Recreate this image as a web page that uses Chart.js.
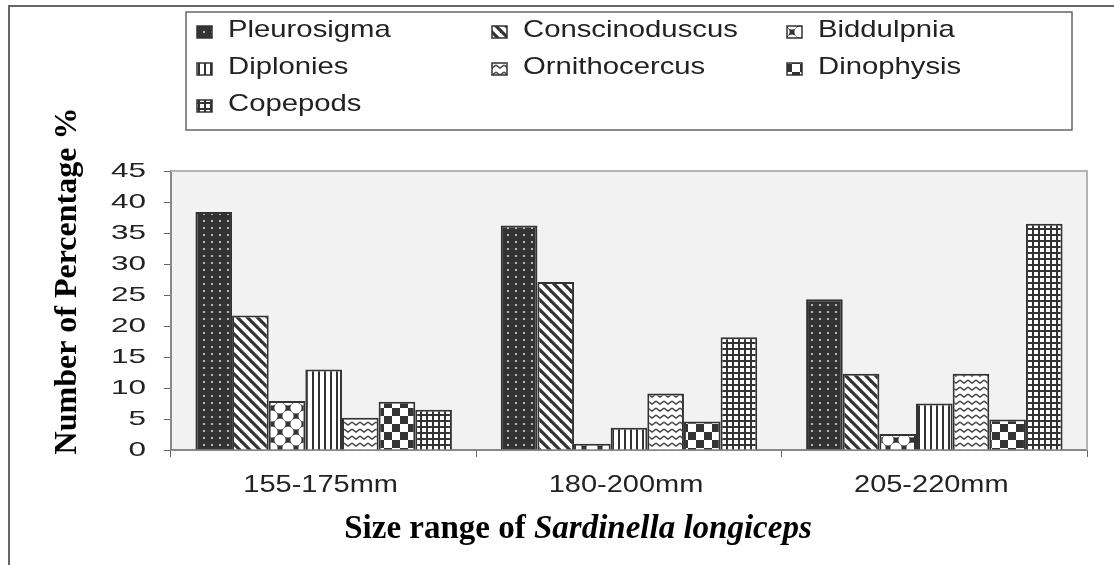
<!DOCTYPE html>
<html>
<head>
<meta charset="utf-8">
<script src="https://cdn.jsdelivr.net/npm/chart.js@4.4.1/dist/chart.umd.min.js"></script>
<style>
  html, body { margin: 0; padding: 0; background: #fff; }
  #wrap { position: relative; width: 1114px; height: 565px; }
</style>
</head>
<body>
<div id="wrap"><canvas id="chart" width="1114" height="565"></canvas></div>
<script>
const categories = ['155-175mm', '180-200mm', '205-220mm'];
const seriesNames = ['Pleurosigma', 'Conscinoduscus', 'Biddulpnia', 'Diplonies', 'Ornithocercus', 'Dinophysis', 'Copepods'];
const pleurosigma = [38.4, 36.2, 24.3];
const conscinoduscus = [21.7, 27.1, 12.3];
const biddulpnia = [7.9, 1.0, 2.6];
const diplonies = [13.0, 3.6, 7.5];
const ornithocercus = [5.2, 9.1, 12.3];
const dinophysis = [7.8, 4.6, 4.9];
const copepods = [6.5, 18.2, 36.5];
const yTicks = [0, 5, 10, 15, 20, 25, 30, 35, 40, 45];

const DARK = '#333333';
const SANS = '"Liberation Sans", Arial, sans-serif';
const SERIF = '"Liberation Serif", "Times New Roman", serif';

function makeTile(w, h, draw) {
    const c = document.createElement('canvas');
    c.width = w;
    c.height = h;
    const g = c.getContext('2d');
    draw(g, w, h);
    return document.getElementById('chart').getContext('2d').createPattern(c, 'repeat');
}

// one pattern per series, in the same order as seriesNames
const patterns = [
    makeTile(8, 7, (g, w, h) => {
        g.fillStyle = DARK; g.fillRect(0, 0, w, h);
        g.fillStyle = '#b8b8b8'; g.fillRect(3, 3, 2, 2);
    }),
    makeTile(10, 10, (g, w, h) => {
        g.fillStyle = '#fff'; g.fillRect(0, 0, w, h);
        g.strokeStyle = DARK; g.lineWidth = 3.2;
        for (let k = -1; k <= 1; k++) {
            g.beginPath(); g.moveTo(k * w - 2, -2); g.lineTo(k * w + w + 2, h + 2); g.stroke();
        }
    }),
    makeTile(16, 16, (g, w, h) => {
        g.fillStyle = DARK; g.fillRect(0, 0, w, h);
        g.fillStyle = '#fff';
        const pts = [[0, 0], [w, 0], [0, h], [w, h], [w / 2, h / 2]];
        pts.forEach(([cx, cy]) => {
            g.beginPath();
            g.arc(cx, cy, 5.6, 0, Math.PI * 2);
            g.fill();
        });
    }),
    makeTile(6, 6, (g, w, h) => {
        g.fillStyle = '#fff'; g.fillRect(0, 0, w, h);
        g.fillStyle = DARK; g.fillRect(0, 0, 2, h);
    }),
    makeTile(8, 7, (g, w, h) => {
        g.fillStyle = '#fff'; g.fillRect(0, 0, w, h);
        g.strokeStyle = '#444'; g.lineWidth = 1.4;
        g.beginPath(); g.moveTo(0, 2); g.lineTo(w / 2, 5); g.lineTo(w, 2); g.stroke();
    }),
    makeTile(16, 16, (g, w, h) => {
        g.fillStyle = '#fff'; g.fillRect(0, 0, w, h);
        g.fillStyle = DARK; g.fillRect(0, 0, 8, 8); g.fillRect(8, 8, 8, 8);
    }),
    makeTile(6, 6, (g, w, h) => {
        g.fillStyle = '#fff'; g.fillRect(0, 0, w, h);
        g.fillStyle = DARK; g.fillRect(0, 0, 2, h); g.fillRect(0, 0, w, 2);
    })
];

const seriesValues = [pleurosigma, conscinoduscus, biddulpnia, diplonies, ornithocercus, dinophysis, copepods];

// text drawn a little wider than the font, like the source picture
function wideText(ctx, text, x, y, size, sx, align) {
    ctx.save();
    ctx.translate(x, y);
    ctx.scale(sx, 1);
    ctx.font = size + 'px ' + SANS;
    ctx.fillStyle = '#222';
    ctx.textAlign = align;
    ctx.textBaseline = 'middle';
    ctx.fillText(text, 0, 0);
    ctx.restore();
}

const decorations = {
    id: 'decorations',
    beforeDraw(chart) {
        const { ctx, chartArea: a } = chart;
        ctx.save();
        ctx.fillStyle = '#fff';
        ctx.fillRect(0, 0, chart.width, chart.height);
        ctx.fillStyle = '#f2f2f2';
        ctx.fillRect(a.left, a.top, a.right - a.left, a.bottom - a.top);
        // outer frame, top and left only
        ctx.strokeStyle = '#666';
        ctx.lineWidth = 2;
        ctx.beginPath();
        ctx.moveTo(chart.width, 6); ctx.lineTo(9, 6); ctx.lineTo(9, chart.height);
        ctx.stroke();
        ctx.restore();
    },
    afterDraw(chart) {
        const { ctx, chartArea: a, scales } = chart;
        ctx.save();
        // plot border top and right
        ctx.strokeStyle = '#b4b4b4';
        ctx.lineWidth = 2;
        ctx.beginPath();
        ctx.moveTo(a.left, a.top); ctx.lineTo(a.right, a.top); ctx.lineTo(a.right, a.bottom);
        ctx.stroke();

        // tick labels
        yTicks.forEach(v => wideText(ctx, String(v), 146, scales.y.getPixelForValue(v), 21, 1.5, 'right'));
        categories.forEach((c, i) => wideText(ctx, c, scales.x.getPixelForValue(i) - 3, 486, 23, 1.26, 'center'));

        // axis titles
        ctx.fillStyle = '#000';
        ctx.textBaseline = 'alphabetic';
        const part1 = 'Size range of ';
        ctx.font = 'bold 33px ' + SERIF;
        const w1 = ctx.measureText(part1).width;
        ctx.font = 'italic bold 33px ' + SERIF;
        const w2 = ctx.measureText('Sardinella longiceps').width;
        const x0 = 578 - (w1 + w2) / 2;
        ctx.textAlign = 'left';
        ctx.font = 'bold 33px ' + SERIF;
        ctx.fillText(part1, x0, 538);
        ctx.font = 'italic bold 33px ' + SERIF;
        ctx.fillText('Sardinella longiceps', x0 + w1, 538);

        ctx.save();
        ctx.translate(76, 281);
        ctx.rotate(-Math.PI / 2);
        ctx.font = 'bold 32px ' + SERIF;
        ctx.textAlign = 'center';
        ctx.fillText('Number of Percentage %', 0, 0);
        ctx.restore();

        // legend box
        ctx.strokeStyle = '#666';
        ctx.lineWidth = 1.5;
        ctx.strokeRect(186, 12, 886, 118);
        const colX = [197, 492, 787];
        const rowY = [30, 67, 104];
        seriesNames.forEach((name, i) => {
            const x = colX[i % 3];
            const y = rowY[Math.floor(i / 3)];
            ctx.fillStyle = patterns[i];
            ctx.fillRect(x, y - 4, 15, 12);
            ctx.strokeStyle = DARK;
            ctx.lineWidth = 1.5;
            ctx.strokeRect(x, y - 4, 15, 12);
            wideText(ctx, name, x + 31, y, 24, 1.22, 'left');
        });
        ctx.restore();
    }
};

new Chart(document.getElementById('chart'), {
    type: 'bar',
    data: {
        labels: categories,
        datasets: seriesNames.map((name, i) => ({
            label: name,
            data: seriesValues[i],
            backgroundColor: patterns[i],
            borderColor: DARK,
            borderWidth: 2,
            barPercentage: 1,
            categoryPercentage: 0.84
        }))
    },
    options: {
        responsive: false,
        animation: false,
        devicePixelRatio: 1,
        layout: { padding: { left: 164, right: 27, top: 171, bottom: 108 } },
        plugins: { legend: { display: false }, tooltip: { enabled: false } },
        scales: {
            x: {
                grid: { drawOnChartArea: false, tickLength: 7, color: '#666', offset: true },
                border: { color: '#888', width: 2 },
                ticks: { display: false }
            },
            y: {
                min: 0,
                max: 45,
                ticks: { display: false, stepSize: 5 },
                grid: { drawOnChartArea: false, tickLength: 7, color: '#666' },
                border: { color: '#888', width: 2 }
            }
        }
    },
    plugins: [decorations]
});
</script>
</body>
</html>
